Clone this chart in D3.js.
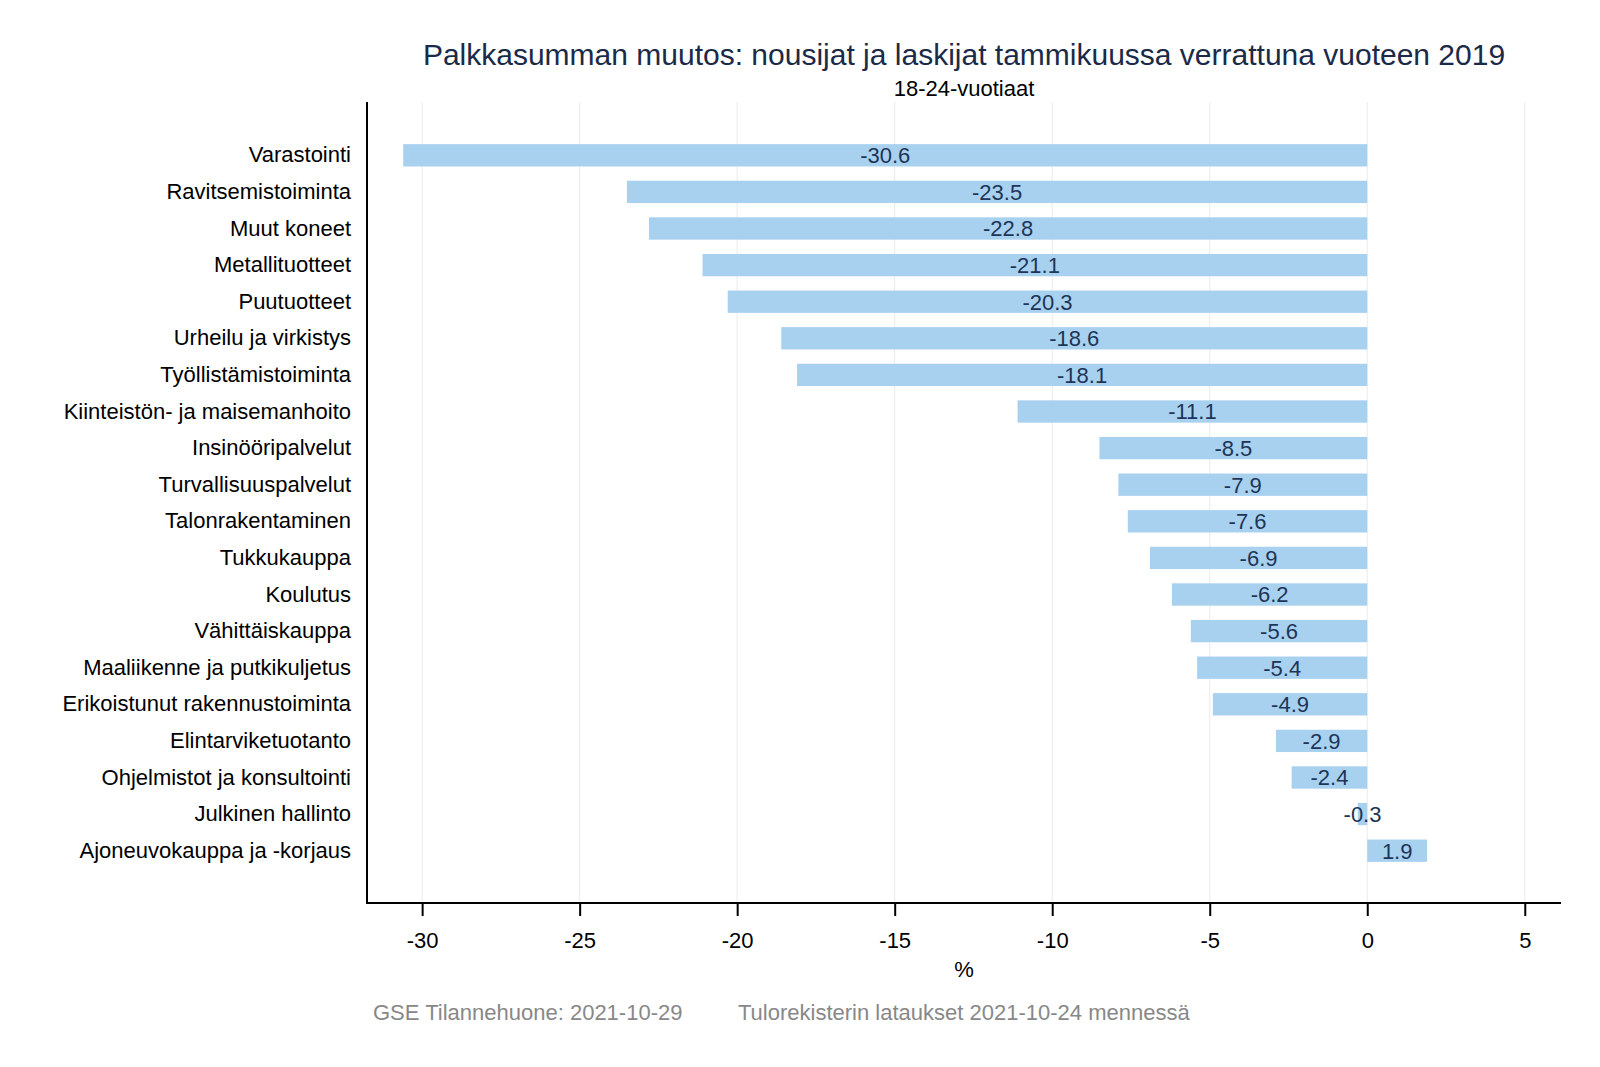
<!DOCTYPE html>
<html>
<head>
<meta charset="utf-8">
<title>Palkkasumman muutos</title>
<script src="https://d3js.org/d3.v7.min.js"></script>
<style>
  html, body { margin: 0; padding: 0; background: #fff; overflow: hidden; }
  svg { display: block; }
  text { font-family: "Liberation Sans", Arial, sans-serif; }
</style>
</head>
<body>
<svg id="chart" width="1600" height="1067"></svg>
<script>
// data
var categories = ["Varastointi", "Ravitsemistoiminta", "Muut koneet", "Metallituotteet", "Puutuotteet",
  "Urheilu ja virkistys", "Työllistämistoiminta", "Kiinteistön- ja maisemanhoito", "Insinööripalvelut",
  "Turvallisuuspalvelut", "Talonrakentaminen", "Tukkukauppa", "Koulutus", "Vähittäiskauppa",
  "Maaliikenne ja putkikuljetus", "Erikoistunut rakennustoiminta", "Elintarviketuotanto",
  "Ohjelmistot ja konsultointi", "Julkinen hallinto", "Ajoneuvokauppa ja -korjaus"];
var values = [-30.6, -23.5, -22.8, -21.1, -20.3, -18.6, -18.1, -11.1, -8.5, -7.9, -7.6, -6.9, -6.2, -5.6,
  -5.4, -4.9, -2.9, -2.4, -0.3, 1.9];
var xTicks = [-30, -25, -20, -15, -10, -5, 0, 5];

function draw() {
  var svg = d3.select("#chart");
  var mLeft = 367, mRight = 1561, mTop = 102, mBottom = 903;
  var fs = 22;

  var x = d3.scaleLinear().domain([-31.75, 6.15]).range([mLeft, mRight]);
  var y = d3.scaleBand().domain(categories).range([137, 869]).paddingInner(0.39).paddingOuter(0.195);

  // grid
  svg.append("g").selectAll("line").data(xTicks).enter().append("line")
    .attr("x1", function(d){ return x(d); }).attr("x2", function(d){ return x(d); })
    .attr("y1", mTop).attr("y2", mBottom)
    .attr("stroke", "#ebebeb").attr("stroke-width", 1);

  // bars
  svg.append("g").selectAll("rect").data(values).enter().append("rect")
    .attr("x", function(d){ return x(Math.min(0, d)); })
    .attr("width", function(d){ return Math.abs(x(d) - x(0)); })
    .attr("y", function(d, i){ return y(categories[i]); })
    .attr("height", y.bandwidth())
    .attr("fill", "#a8d1f0");

  // bar labels
  svg.append("g").selectAll("text").data(values).enter().append("text")
    .attr("x", function(d){ return (x(d) + x(0)) / 2; })
    .attr("y", function(d, i){ return y(categories[i]) + y.bandwidth() / 2; })
    .attr("dy", "0.36em")
    .attr("text-anchor", "middle")
    .attr("font-size", fs)
    .attr("fill", "#1d3557")
    .text(function(d){ return d.toFixed(1); });

  // x axis
  var xAxis = svg.append("g").attr("transform", "translate(0," + mBottom + ")")
    .call(d3.axisBottom(x).tickValues(xTicks).tickSize(13).tickPadding(16)
      .tickFormat(function(d){ return String(d); }));
  xAxis.select(".domain").remove();
  xAxis.selectAll(".tick line").attr("stroke", "#000").attr("stroke-width", 2);
  xAxis.selectAll(".tick text").attr("font-size", fs).attr("fill", "#000")
    .style("font-family", "'Liberation Sans', Arial, sans-serif");
  svg.append("line").attr("x1", mLeft - 1).attr("x2", mRight).attr("y1", mBottom).attr("y2", mBottom)
    .attr("stroke", "#000").attr("stroke-width", 2);

  // y axis
  var yAxis = svg.append("g").attr("transform", "translate(" + mLeft + ",0)")
    .call(d3.axisLeft(y).tickSize(0).tickPadding(16));
  yAxis.select(".domain").remove();
  yAxis.selectAll(".tick text").attr("font-size", fs).attr("fill", "#000")
    .style("font-family", "'Liberation Sans', Arial, sans-serif");
  svg.append("line").attr("x1", mLeft).attr("x2", mLeft).attr("y1", mTop).attr("y2", mBottom + 1)
    .attr("stroke", "#000").attr("stroke-width", 2);

  // titles
  svg.append("text").attr("x", 964).attr("y", 65).attr("text-anchor", "middle")
    .attr("font-size", 30).attr("fill", "#1a2a48")
    .text("Palkkasumman muutos: nousijat ja laskijat tammikuussa verrattuna vuoteen 2019");
  svg.append("text").attr("x", 964).attr("y", 96).attr("text-anchor", "middle")
    .attr("font-size", fs).attr("fill", "#000").text("18-24-vuotiaat");
  svg.append("text").attr("x", 964).attr("y", 977).attr("text-anchor", "middle")
    .attr("font-size", fs).attr("fill", "#000").text("%");

  // footer
  svg.append("text").attr("x", 373).attr("y", 1020).attr("font-size", fs).attr("fill", "#888")
    .text("GSE Tilannehuone: 2021-10-29");
  svg.append("text").attr("x", 738).attr("y", 1020).attr("font-size", fs).attr("fill", "#888")
    .text("Tulorekisterin lataukset 2021-10-24 mennessä");
}
draw();
</script>
</body>
</html>
